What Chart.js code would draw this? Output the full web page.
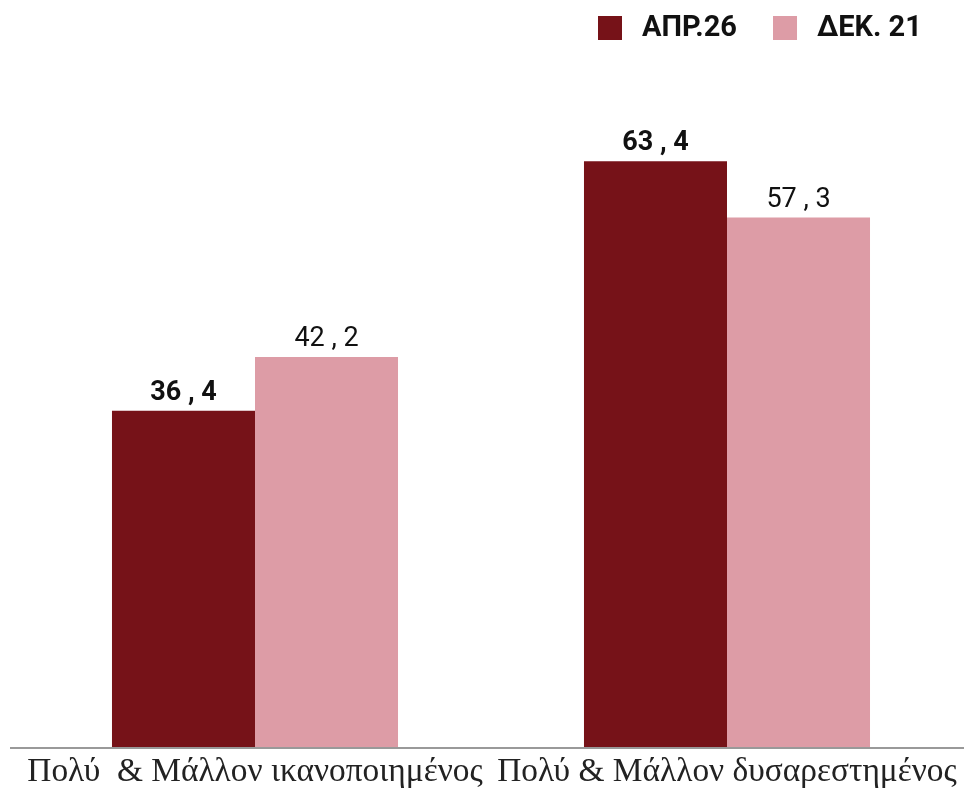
<!DOCTYPE html>
<html>
<head>
<meta charset="utf-8">
<script src="https://cdn.jsdelivr.net/npm/chart.js@4"></script>
<style>
  html, body { margin: 0; padding: 0; background: #fff; }
  #wrap { width: 964px; height: 795px; position: relative; }
</style>
</head>
<body>
<div id="wrap"><canvas id="chart"></canvas></div>
<script>
// chart data
const categories = ['Πολύ  & Μάλλον ικανοποιημένος', 'Πολύ & Μάλλον δυσαρεστημένος'];
const seriesNames = ['ΑΠΡ.26', 'ΔΕΚ. 21'];
const apr26 = [36.4, 63.4];
const dec21 = [42.2, 57.3];

const DARK = '#761218';
const PINK = '#dd9ca6';

// value labels above bars, greek decimal comma with spaces round it
const valueLabels = {
    id: 'valueLabels',
    afterDatasetsDraw(chart){
        const ctx = chart.ctx;
        ctx.save();
        chart.data.datasets.forEach((ds, di) => {
            const meta = chart.getDatasetMeta(di);
            meta.data.forEach((bar, i) => {
                const txt = ds.data[i].toFixed(1).replace('.', ' , ');
                ctx.font = (di === 0 ? 'bold ' : '') + '27px Roboto';
                ctx.fillStyle = '#111';
                ctx.textAlign = 'center';
                ctx.textBaseline = 'alphabetic';
                ctx.fillText(txt, bar.x, bar.y - 11);
            });
        });
        ctx.restore();
    }
};

// baseline running across the whole width
const baseLine = {
    id: 'baseLine',
    afterDatasetsDraw(chart){
        const ctx = chart.ctx;
        const y = chart.chartArea.bottom + 1;
        ctx.save();
        ctx.strokeStyle = '#999';
        ctx.lineWidth = 2;
        ctx.beginPath();
        ctx.moveTo(10, y);
        ctx.lineTo(chart.width, y);
        ctx.stroke();
        ctx.restore();
    }
};

// simple legend at top right
const topLegend = {
    id: 'topLegend',
    afterDraw(chart){
        const ctx = chart.ctx;
        ctx.save();
        ctx.font = 'bold 29px Roboto';
        ctx.textBaseline = 'middle';
        ctx.textAlign = 'left';
        let x = 598;
        const y = 16, box = 24;
        chart.data.datasets.forEach(ds => {
            ctx.fillStyle = ds.backgroundColor;
            ctx.fillRect(x, y, box, box);
            x += box + 20;
            ctx.fillStyle = '#111';
            ctx.fillText(ds.label, x, y + box / 2 + 1);
            x += ctx.measureText(ds.label).width + 36;
        });
        ctx.restore();
    }
};

new Chart(document.getElementById('chart'), {
    type: 'bar',
    data: {
        labels: categories,
        datasets: [
            { label: seriesNames[0], data: apr26, backgroundColor: DARK },
            { label: seriesNames[1], data: dec21, backgroundColor: PINK }
        ]
    },
    options: {
        responsive: true,
        maintainAspectRatio: false,
        animation: false,
        layout: { padding: { top: 54, left: 19, right: 1, bottom: 0 } },
        datasets: { bar: { categoryPercentage: 0.606, barPercentage: 1.0 } },
        plugins: {
            legend: { display: false },
            tooltip: { enabled: false }
        },
        scales: {
            x: {
                grid: { display: false, drawTicks: false },
                border: { display: false },
                ticks: {
                    color: '#222',
                    padding: 5,
                    maxRotation: 0,
                    autoSkip: false,
                    font: { family: 'Liberation Serif', size: 33.4 }
                },
                afterFit(scale){
                    // labels are wider than the categories, keep the plot full width
                    scale.height = 48;
                    scale.paddingLeft = 0;
                    scale.paddingRight = 0;
                }
            },
            y: { display: false, min: 0, max: 75 }
        }
    },
    plugins: [valueLabels, baseLine, topLegend]
});
</script>
</body>
</html>
